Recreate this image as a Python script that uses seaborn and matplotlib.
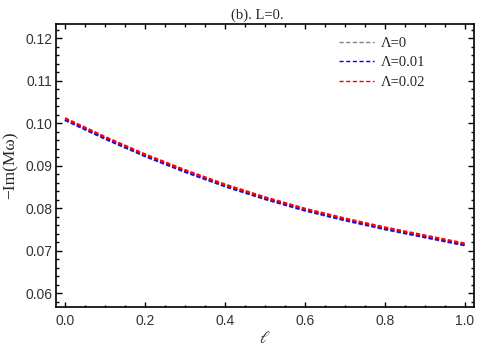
"""Quasinormal mode damping vs ell for several Lambda values (L=0)."""

import matplotlib.pyplot as plt
import pandas as pd
import seaborn as sns
from matplotlib.ticker import MultipleLocator

sns.set_style("ticks")
plt.rcParams["font.family"] = ["Liberation Serif", "DejaVu Serif"]
plt.rcParams["mathtext.fontset"] = "stix"

# Values.
ell = [0.0, 0.1, 0.2, 0.3, 0.4, 0.5, 0.6, 0.7, 0.8, 0.9, 1.0]
im_lambda_0 = [0.1008, 0.0964, 0.0923, 0.0886, 0.0852, 0.0822, 0.0795, 0.0772, 0.0751, 0.0732, 0.0713]
im_lambda_001 = [0.1009, 0.0965, 0.0924, 0.0887, 0.0853, 0.0823, 0.0796, 0.0773, 0.0752, 0.0733, 0.0714]
im_lambda_002 = [0.1012, 0.0968, 0.0927, 0.0890, 0.0856, 0.0826, 0.0799, 0.0776, 0.0755, 0.0736, 0.0717]

series_labels = ["Λ=0", "Λ=0.01", "Λ=0.02"]
series_colors = ["#808080", "#0000ff", "#ff0000"]

df = pd.concat(
    [
        pd.DataFrame({"ell": ell, "val": vals, "series": lab})
        for vals, lab in zip([im_lambda_0, im_lambda_001, im_lambda_002], series_labels)
    ],
    ignore_index=True,
)

fig, ax = plt.subplots(figsize=(4.98, 3.54), dpi=100)
fig.subplots_adjust(left=56 / 498, right=474 / 498, top=1 - 24 / 354, bottom=1 - 307 / 354)

for lab, color in zip(series_labels, series_colors):
    sns.lineplot(
        data=df[df["series"] == lab],
        x="ell",
        y="val",
        color=color,
        linewidth=1.8,
        dashes=False,
        label=lab,
        ax=ax,
    )
for line in ax.get_lines():
    line.set_dashes((1.7, 0.9))

ax.set_xlim(-0.0225, 1.0225)
ax.set_ylim(0.0568, 0.1234)

ax.xaxis.set_major_locator(MultipleLocator(0.2))
ax.xaxis.set_minor_locator(MultipleLocator(0.05))
ax.yaxis.set_major_locator(MultipleLocator(0.01))
ax.yaxis.set_minor_locator(MultipleLocator(0.002))
ax.xaxis.set_major_formatter(plt.FuncFormatter(lambda v, p: f"{v:.1f}"))
ax.yaxis.set_major_formatter(plt.FuncFormatter(lambda v, p: f"{v:.2f}"))

ax.tick_params(axis="both", which="both", direction="in", top=True, right=True,
               color="black", width=1.0)
ax.tick_params(axis="x", which="major", length=3.3, pad=5)
ax.tick_params(axis="x", which="minor", length=1.8)
ax.tick_params(axis="y", which="major", length=4.5, pad=2.5)
ax.tick_params(axis="y", which="minor", length=2.5)
for lbl in ax.get_xticklabels() + ax.get_yticklabels():
    lbl.set_fontfamily("Liberation Sans")
    lbl.set_fontsize(10)
    lbl.set_color("#333333")

for spine in ax.spines.values():
    spine.set_linewidth(1.2)
    spine.set_color("black")

ax.set_xlabel(r"$\ell$", fontsize=12, labelpad=2)
ax.set_ylabel("−Im(Mω)", fontsize=12.5, labelpad=5)
ax.set_title("(b). L=0.", fontsize=10.5, x=0.481, pad=4)

leg = ax.legend(
    loc="upper left",
    bbox_to_anchor=(0.677, 0.955),
    frameon=False,
    fontsize=10.5,
    handlelength=2.4,
    handletextpad=0.45,
    borderpad=0,
    borderaxespad=0,
    labelspacing=0.42,
)
for hl in leg.get_lines():
    hl.set_linewidth(1.0)
    hl.set_dashes((3.0, 1.8))

fig.savefig("out.png", dpi=100)
plt.close(fig)
